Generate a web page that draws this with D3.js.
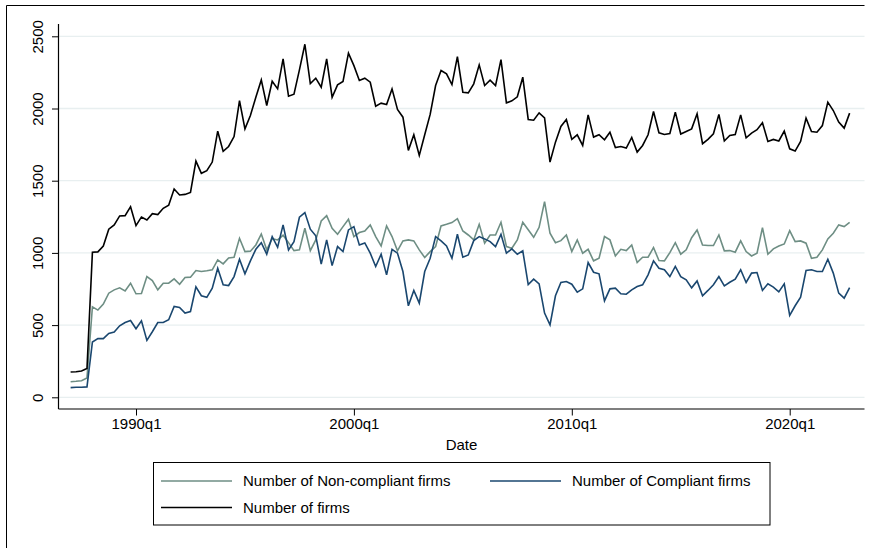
<!DOCTYPE html>
<html>
<head>
<meta charset="utf-8">
<script src="https://cdn.jsdelivr.net/npm/d3@7"></script>
<style>
  html, body { margin: 0; padding: 0; background: #ffffff; }
  svg { display: block; }
  text { font-family: "Liberation Sans", Arial, Helvetica, sans-serif; fill: #000; }
</style>
</head>
<body>
<svg id="chart" width="873" height="548"></svg>
<script>
// Quarterly series, first observation 1987q1
const startYear = 1987;

const nonCompliant = [
  108,111,115,134,627,604,645,721,744,758,737,790,717,719,836,809,744,790,790,820,783,830,832,
  878,871,876,883,952,924,965,970,1101,1009,1012,1055,1131,1021,1099,1090,1122,1071,1016,1021,1171,1016,1090,1221,1258,1171,1129,1182,1233,1113,1141,1152,
  1194,1113,1048,1187,1113,1014,1083,1090,1083,1021,968,1009,1044,1187,1198,1210,1237,1152,1124,1090,1198,1067,1124,1124,1212,1044,1032,1090,1212,1160,
  1108,1177,1355,1136,1071,1085,1124,1009,1090,998,1025,945,963,1113,1090,979,1025,1016,1055,933,970,970,1037,947,945,1002,1071,991,1021,1105,
  1159,1055,1051,1051,1124,1014,1016,1005,1083,1009,979,998,1175,991,1028,1048,1062,1154,1078,1083,1067,963,970,1021,1097,1136,1194,1182,1212
];

const compliant = [
  67,70,70,72,383,406,406,442,452,495,518,532,475,530,394,454,518,518,537,629,622,583,594,
  765,703,692,756,894,779,774,836,956,855,945,1025,1071,991,1113,1039,1194,1021,1078,1247,1279,1164,1118,922,1090,912,1044,1009,1159,1182,1055,1069,
  998,906,991,848,1025,998,871,634,740,652,871,963,1113,1083,1048,963,1129,970,986,1085,1113,1097,1078,1044,1129,998,1028,991,1014,781,
  818,786,583,502,703,795,802,783,728,751,933,866,855,668,751,756,717,714,744,767,779,848,945,894,883,836,906,836,813,758,
  806,703,740,779,836,772,797,818,883,795,860,864,740,786,763,730,786,567,634,694,878,883,871,871,956,860,721,687,760
];

const allFirms = [
  175,177,182,200,1005,1007,1048,1164,1194,1256,1258,1320,1189,1249,1228,1272,1265,1309,1330,1442,1401,1405,1419,
  1636,1551,1569,1629,1843,1703,1737,1806,2055,1859,1952,2078,2198,2021,2189,2136,2343,2085,2099,2267,2445,2173,2210,2147,2343,2078,2164,2187,2383,2297,2194,2210,
  2182,2016,2037,2028,2136,1993,1940,1710,1818,1675,1818,1959,2159,2263,2240,2166,2359,2113,2108,2171,2302,2159,2196,2159,2339,2039,2053,2081,2217,1924,
  1919,1970,1935,1629,1767,1876,1924,1786,1818,1744,1956,1802,1818,1783,1836,1730,1737,1726,1800,1698,1744,1818,1979,1832,1820,1827,1975,1823,1841,1859,
  1963,1756,1786,1825,1959,1775,1813,1820,1956,1797,1830,1853,1901,1772,1786,1775,1844,1721,1705,1772,1933,1841,1836,1882,2044,1986,1906,1864,1968
];

const yTicks = [0, 500, 1000, 1500, 2000, 2500];
const xTickYears = [1990, 2000, 2010, 2020];
const xTickLabels = ["1990q1", "2000q1", "2010q1", "2020q1"];

const seriesNames = ["Number of Non-compliant firms", "Number of Compliant firms", "Number of firms"];
const seriesColors = ["#6e8e84", "#1a476f", "#000000"];

// time value for observation i (year + fraction of year)
const timeOf = i => startYear + i / 4;

const svg = d3.select("#chart");

const plot = { left: 58.5, right: 864.5, top: 24, bottom: 409 };

const x = d3.scaleLinear().domain([1990, 2020]).range([136, 789.7]);
const y = d3.scaleLinear().domain([0, 2500]).range([397.3, 36.3]);

// outer frame (left and top edges)
svg.append("path")
  .attr("d", `M6.5,548 V5.5 H${plot.right}`)
  .attr("fill", "none").attr("stroke", "#000").attr("stroke-width", 1);

// horizontal grid
svg.append("g").selectAll("line").data(yTicks).join("line")
  .attr("x1", plot.left).attr("x2", plot.right)
  .attr("y1", d => y(d)).attr("y2", d => y(d))
  .attr("stroke", "#e8eff0").attr("stroke-width", 1.3);

// series lines
const series = [nonCompliant, compliant, allFirms];
const line = d3.line().x((d, i) => x(timeOf(i))).y(d => y(d));
svg.append("g").selectAll("path").data(series).join("path")
  .attr("d", d => line(d))
  .attr("fill", "none")
  .attr("stroke", (d, k) => seriesColors[k])
  .attr("stroke-width", 1.6)
  .attr("stroke-linejoin", "miter");

// y axis
const yAxis = svg.append("g").attr("transform", `translate(${plot.left},0)`)
  .call(d3.axisLeft(y).tickValues(yTicks).tickSize(6.5).tickPadding(0).tickFormat(d3.format("d")));
yAxis.select(".domain").remove();
yAxis.selectAll(".tick line").attr("stroke", "#000");
yAxis.selectAll(".tick text").remove();
yAxis.append("line").attr("x1", 0).attr("x2", 0).attr("y1", plot.top).attr("y2", plot.bottom)
  .attr("stroke", "#000").attr("stroke-width", 1.2);
yAxis.selectAll(".tick").append("text")
  .attr("transform", "translate(-16,0) rotate(-90)")
  .attr("text-anchor", "middle")
  .attr("font-size", 15)
  .text(d => d);

// x axis
const xAxis = svg.append("g").attr("transform", `translate(0,${plot.bottom})`)
  .call(d3.axisBottom(x).tickValues(xTickYears).tickSize(6.5).tickPadding(3)
    .tickFormat((d, i) => xTickLabels[i]));
xAxis.select(".domain").remove();
xAxis.selectAll(".tick line").attr("stroke", "#000");
xAxis.selectAll(".tick text").attr("font-size", 15).attr("fill", "#000")
  .attr("font-family", "Liberation Sans, Arial, sans-serif").attr("dy", "0.71em");
xAxis.append("line").attr("x1", plot.left).attr("x2", plot.right).attr("y1", 0).attr("y2", 0)
  .attr("stroke", "#000").attr("stroke-width", 1.2);

// x axis title
svg.append("text").attr("x", (plot.left + plot.right) / 2).attr("y", 449.5)
  .attr("text-anchor", "middle").attr("font-size", 15).text("Date");

// legend
const legend = svg.append("g");
legend.append("rect").attr("x", 153.5).attr("y", 462.5).attr("width", 616.5).attr("height", 62.5)
  .attr("fill", "#fff").attr("stroke", "#000").attr("stroke-width", 1);
const legendItems = [
  { k: 0, x: 161, y: 481 },
  { k: 1, x: 490, y: 481 },
  { k: 2, x: 161, y: 507.5 }
];
legendItems.forEach(it => {
  legend.append("line").attr("x1", it.x).attr("x2", it.x + 71).attr("y1", it.y).attr("y2", it.y)
    .attr("stroke", seriesColors[it.k]).attr("stroke-width", 1.6);
  legend.append("text").attr("x", it.x + 82).attr("y", it.y + 5.3)
    .attr("font-size", 15).text(seriesNames[it.k]);
});
</script>
</body>
</html>
